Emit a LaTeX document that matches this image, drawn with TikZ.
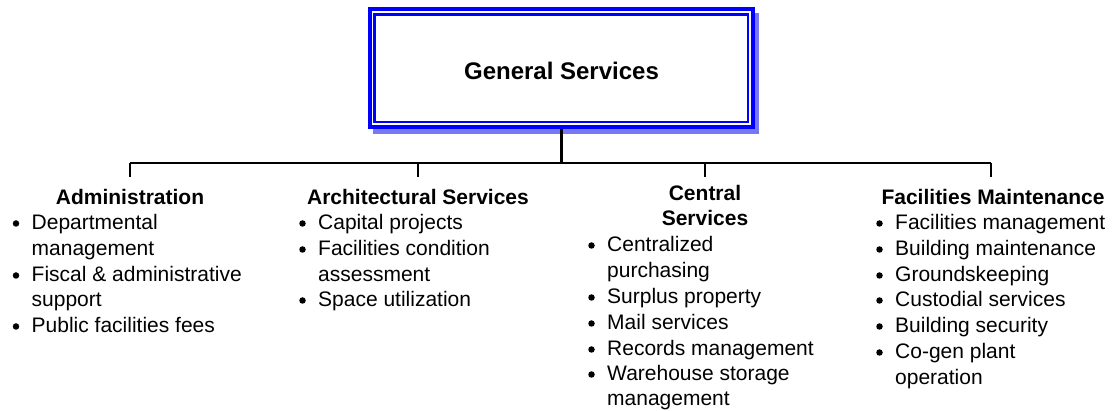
\documentclass[tikz,border=0pt]{standalone}
\usepackage{fontspec}
\setmainfont{Liberation Sans}
\definecolor{gsblue}{RGB}{0,0,255}
\definecolor{gsshadow}{RGB}{120,120,245}
\begin{document}
\begin{tikzpicture}[x=1pt,y=-1pt,
  hd/.style={font=\fontsize{21}{25}\selectfont\bfseries, anchor=base, inner sep=0pt},
  it/.style={font=\fontsize{21}{25}\selectfont, anchor=base west, inner sep=0pt},
  bul/.style={circle, fill=black, inner sep=0pt, minimum size=6.5pt},
  trunk/.style={line width=3pt},
  bus/.style={line width=2pt},
  drop/.style={line width=1.5pt}]
\useasboundingbox (0,0) rectangle (1114,411);
\newcommand\bitem[4]{%
  \node[it] (#1) at (#2,#3) {#4};
  \node[bul] (#1b) at ([xshift=-15.5pt,yshift=6.5pt]#1.base west) {};}
\newcommand\citem[4]{\node[it] (#1) at (#2,#3) {#4};}
% top box
\fill[gsshadow] (373,13) rectangle (759,134);
\draw[gsblue, line width=4pt, fill=white] (369.5,9) rectangle (753,127);
\draw[gsblue, line width=2.5pt] (374.5,14.7) rectangle (748,122);
\node[font=\fontsize{24}{28}\selectfont\bfseries, inner sep=0pt] (gs) at (561.5,71) {General Services};
\coordinate (boxb) at (561.5,129);
% connectors
\coordinate (hub) at (561.5,163);
\coordinate (b1) at (130,163);
\coordinate (b2) at (418,163);
\coordinate (b3) at (705,163);
\coordinate (b4) at (991,163);
\coordinate (d1) at (130,177);
\coordinate (d2) at (418,177);
\coordinate (d3) at (705,177);
\coordinate (d4) at (991,177);
\draw[trunk] (boxb) -- (hub);
\draw[bus] (b1) -- (b4);
\draw[drop] (b1) -- (d1);
\draw[drop] (b2) -- (d2);
\draw[drop] (b3) -- (d3);
\draw[drop] (b4) -- (d4);
% Administration
\node[hd] (h1) at (130,205) {Administration};
\bitem{a1}{31.5}{230}{Departmental}
\citem{a1c}{31.5}{256}{management}
\bitem{a2}{31.5}{282}{Fiscal \& administrative}
\citem{a2c}{31.5}{307}{support}
\bitem{a3}{31.5}{333}{Public facilities fees}
% Architectural
\node[hd] (h2) at (418,205) {Architectural Services};
\bitem{r1}{318}{230}{Capital projects}
\bitem{r2}{318}{256}{Facilities condition}
\citem{r2c}{318}{282}{assessment}
\bitem{r3}{318}{307}{Space utilization}
% Central
\node[hd] (h3a) at (705,201) {Central};
\node[hd] (h3b) at (705,226) {Services};
\bitem{c1}{607}{252}{Centralized}
\citem{c1c}{607}{278}{purchasing}
\bitem{c2}{607}{304}{Surplus property}
\bitem{c3}{607}{330}{Mail services}
\bitem{c4}{607}{356}{Records management}
\bitem{c5}{607}{381}{Warehouse storage}
\citem{c5c}{607}{406}{management}
% Facilities maintenance
\node[hd] (h4) at (993,205) {Facilities Maintenance};
\bitem{f1}{895}{230}{Facilities management}
\bitem{f2}{895}{256}{Building maintenance}
\bitem{f3}{895}{282}{Groundskeeping}
\bitem{f4}{895}{307}{Custodial services}
\bitem{f5}{895}{333}{Building security}
\bitem{f6}{895}{359}{Co-gen plant}
\citem{f6c}{895}{385}{operation}
\end{tikzpicture}
\end{document}
